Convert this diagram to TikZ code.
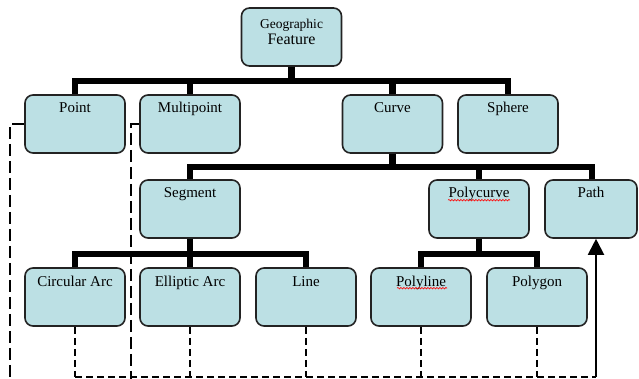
\documentclass[tikz,border=0pt]{standalone}
\usepackage{fontspec}
\setmainfont{Liberation Serif}
\usetikzlibrary{arrows.meta,calc,decorations.pathmorphing}
\definecolor{boxfill}{RGB}{188,224,228}
\definecolor{boxline}{RGB}{35,35,35}
\tikzset{
  box/.style={draw=boxline, line width=1.6pt, fill=boxfill, rounded corners=8pt,
    minimum width=100pt, inner xsep=0pt, inner ysep=0pt,
    text height=18pt, text depth=40pt, font=\fontsize{15}{17}\selectfont},
  bus/.style={line width=6.5pt, line join=miter},
  longdash/.style={line width=1.5pt, dash pattern=on 12pt off 5pt},
  shortdash/.style={line width=1.5pt, dash pattern=on 7pt off 4pt},
  arrowline/.style={line width=2pt, -{Triangle[width=16pt,length=16pt]}},
  spell/.style={red, line width=0.6pt, decorate, decoration={snake, amplitude=0.8pt, segment length=3pt}}
}
\begin{document}
\begin{tikzpicture}[x=1pt,y=-1pt]
\useasboundingbox (0,0) rectangle (639,379);
% level 0
\node[box, minimum height=58pt, text height=0pt, text depth=0pt] (GF) at (291.5,37) {};
\node[align=center, inner sep=0pt] (GFtext) at ($(GF.center)+(0,-5)$)
  {\fontsize{13.5}{15}\selectfont Geographic\\[2pt]\fontsize{16}{18}\selectfont Feature};
% level 1
\node[box] (Point) at (75,124) {Point};
\node[box] (Multipoint) at (190,124) {Multipoint};
\node[box] (Curve) at (392.5,124) {Curve};
\node[box] (Sphere) at (508,124) {Sphere};
% level 2
\node[box] (Segment) at (190,209) {Segment};
\node[box] (Polycurve) at (479,209) {Polycurve};
\node[box, minimum width=92pt] (Path) at (591,209) {Path};
% level 3
\node[box] (CircArc) at (75,297) {Circular Arc};
\node[box] (EllArc) at (190,297) {Elliptic Arc};
\node[box] (Line) at (306,297) {Line};
\node[box] (Polyline) at (421,297) {Polyline};
\node[box] (Polygon) at (537,297) {Polygon};
% spell-check underlines
\draw[spell] ($(Polycurve.north)+(-31,21)$) -- ($(Polycurve.north)+(31,21)$);
\draw[spell] ($(Polyline.north)+(-24,21)$) -- ($(Polyline.north)+(26,21)$);
% thick hierarchy buses
\foreach \c in {Point,Multipoint,Curve,Sphere}
  \draw[bus] (GF.south) -- ++(0,14) -| (\c.north);
\foreach \c in {Segment,Polycurve}
  \draw[bus] (Curve.south) -- ++(0,13) -| (\c.north);
\draw[bus] (Curve.south) -- ++(0,13) -| ([xshift=1pt]Path.north);
\foreach \c in {CircArc,EllArc,Line}
  \draw[bus] (Segment.south) -- ++(0,15) -| (\c.north);
\foreach \c in {Polyline,Polygon}
  \draw[bus] (Polycurve.south) -- ++(0,15) -| (\c.north);
% dashed links
\coordinate (pEnd) at (10,382);
\coordinate (mEnd) at (131,380);
\coordinate (bus3) at (75,377);
\draw[longdash] (Point.west) -| (pEnd);
\draw[longdash] (Multipoint.west) -| (mEnd);
\foreach \c in {CircArc,EllArc,Line,Polyline,Polygon}
  \draw[shortdash] (\c.south) -- (\c.south |- bus3);
\draw[shortdash] (CircArc.south |- bus3) -- ([xshift=5pt]Path.south |- bus3);
\draw[arrowline] ([xshift=5pt]Path.south |- bus3) -- ([xshift=5pt]Path.south);
\end{tikzpicture}
\end{document}
